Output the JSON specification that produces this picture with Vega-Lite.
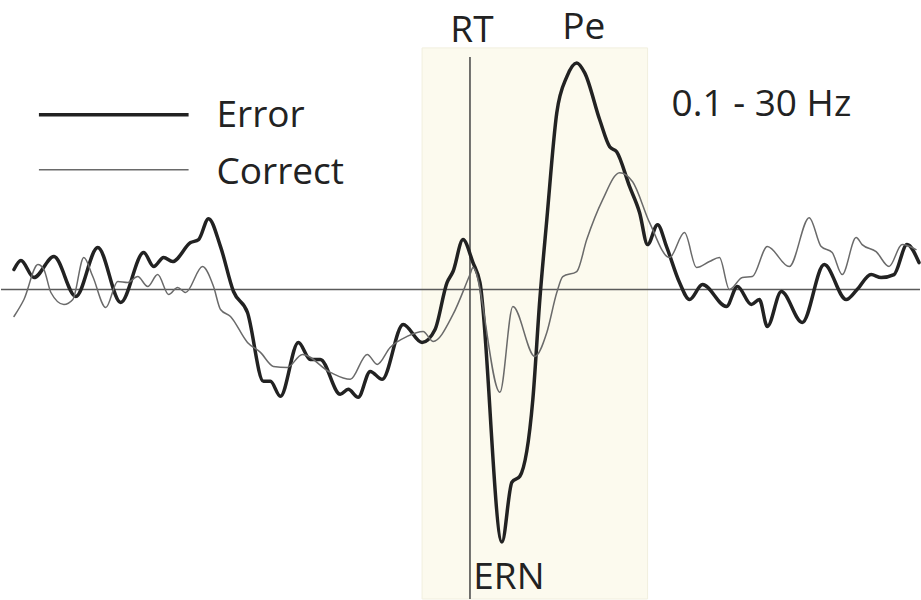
{
  "$schema": "https://vega.github.io/schema/vega-lite/v6.json",
  "width": 921,
  "height": 600,
  "autosize": {"type": "fit", "contains": "padding"},
  "padding": 0,
  "background": "white",
  "config": {"view": {"stroke": null}, "font": "Open Sans"},
  "datasets": {
    "erp": [
      {"series":"Error","t":-914,"amp":1.0},{"series":"Error","t":-900,"amp":1.45},{"series":"Error","t":-874,"amp":0.6},{"series":"Error","t":-834,"amp":1.65},{"series":"Error","t":-790,"amp":-0.35},{"series":"Error","t":-746,"amp":2.1},{"series":"Error","t":-700,"amp":-0.65},{"series":"Error","t":-654,"amp":1.85},{"series":"Error","t":-634,"amp":1.15},{"series":"Error","t":-614,"amp":1.6},{"series":"Error","t":-596,"amp":1.4},{"series":"Error","t":-560,"amp":2.35},{"series":"Error","t":-544,"amp":2.5},{"series":"Error","t":-524,"amp":3.55},{"series":"Error","t":-500,"amp":2.15},{"series":"Error","t":-474,"amp":-0.1},{"series":"Error","t":-446,"amp":-1.15},{"series":"Error","t":-414,"amp":-4.6},{"series":"Error","t":-400,"amp":-4.6},{"series":"Error","t":-380,"amp":-5.35},{"series":"Error","t":-344,"amp":-2.65},{"series":"Error","t":-320,"amp":-3.5},{"series":"Error","t":-300,"amp":-3.5},{"series":"Error","t":-260,"amp":-5.25},{"series":"Error","t":-244,"amp":-5.0},{"series":"Error","t":-224,"amp":-5.4},{"series":"Error","t":-200,"amp":-4.1},{"series":"Error","t":-176,"amp":-4.5},{"series":"Error","t":-134,"amp":-1.75},{"series":"Error","t":-96,"amp":-2.65},{"series":"Error","t":-70,"amp":-2.0},{"series":"Error","t":-46,"amp":0.35},{"series":"Error","t":-34,"amp":0.9},{"series":"Error","t":-14,"amp":2.5},{"series":"Error","t":6,"amp":1.35},{"series":"Error","t":20,"amp":0.35},{"series":"Error","t":64,"amp":-12.65},{"series":"Error","t":84,"amp":-9.65},{"series":"Error","t":100,"amp":-9.35},{"series":"Error","t":126,"amp":-5.5},{"series":"Error","t":140,"amp":-0.5},{"series":"Error","t":154,"amp":3.5},{"series":"Error","t":174,"amp":8.85},{"series":"Error","t":194,"amp":10.65},{"series":"Error","t":214,"amp":11.35},{"series":"Error","t":230,"amp":10.85},{"series":"Error","t":260,"amp":8.5},{"series":"Error","t":280,"amp":7.15},{"series":"Error","t":294,"amp":6.9},{"series":"Error","t":320,"amp":5.15},{"series":"Error","t":340,"amp":3.85},{"series":"Error","t":356,"amp":2.25},{"series":"Error","t":376,"amp":3.25},{"series":"Error","t":394,"amp":2.15},{"series":"Error","t":420,"amp":0.35},{"series":"Error","t":440,"amp":-0.5},{"series":"Error","t":466,"amp":0.25},{"series":"Error","t":514,"amp":-0.85},{"series":"Error","t":536,"amp":0.15},{"series":"Error","t":564,"amp":-0.75},{"series":"Error","t":580,"amp":-0.5},{"series":"Error","t":596,"amp":-1.85},{"series":"Error","t":624,"amp":-0.1},{"series":"Error","t":666,"amp":-1.65},{"series":"Error","t":710,"amp":1.25},{"series":"Error","t":754,"amp":-0.5},{"series":"Error","t":776,"amp":0.0},{"series":"Error","t":804,"amp":0.75},{"series":"Error","t":824,"amp":0.6},{"series":"Error","t":850,"amp":0.75},{"series":"Error","t":876,"amp":2.25},{"series":"Error","t":900,"amp":1.35},
      {"series":"Correct","t":-914,"amp":-1.35},{"series":"Correct","t":-894,"amp":-0.5},{"series":"Correct","t":-866,"amp":1.25},{"series":"Correct","t":-854,"amp":1.0},{"series":"Correct","t":-840,"amp":-0.15},{"series":"Correct","t":-814,"amp":-0.75},{"series":"Correct","t":-796,"amp":-0.5},{"series":"Correct","t":-774,"amp":1.6},{"series":"Correct","t":-756,"amp":0.65},{"series":"Correct","t":-730,"amp":-0.9},{"series":"Correct","t":-706,"amp":0.4},{"series":"Correct","t":-686,"amp":0.35},{"series":"Correct","t":-666,"amp":0.65},{"series":"Correct","t":-646,"amp":0.15},{"series":"Correct","t":-626,"amp":0.75},{"series":"Correct","t":-604,"amp":-0.25},{"series":"Correct","t":-586,"amp":0.1},{"series":"Correct","t":-570,"amp":-0.15},{"series":"Correct","t":-536,"amp":1.15},{"series":"Correct","t":-514,"amp":0.15},{"series":"Correct","t":-500,"amp":-1.0},{"series":"Correct","t":-480,"amp":-1.35},{"series":"Correct","t":-446,"amp":-2.65},{"series":"Correct","t":-420,"amp":-3.15},{"series":"Correct","t":-394,"amp":-3.85},{"series":"Correct","t":-366,"amp":-3.9},{"series":"Correct","t":-336,"amp":-3.25},{"series":"Correct","t":-280,"amp":-4.15},{"series":"Correct","t":-240,"amp":-4.5},{"series":"Correct","t":-206,"amp":-3.25},{"series":"Correct","t":-186,"amp":-3.75},{"series":"Correct","t":-160,"amp":-2.9},{"series":"Correct","t":-126,"amp":-2.35},{"series":"Correct","t":-94,"amp":-2.1},{"series":"Correct","t":-74,"amp":-2.6},{"series":"Correct","t":-34,"amp":-1.25},{"series":"Correct","t":0,"amp":0.75},{"series":"Correct","t":6,"amp":1.1},{"series":"Correct","t":60,"amp":-5.15},{"series":"Correct","t":86,"amp":-0.85},{"series":"Correct","t":130,"amp":-3.35},{"series":"Correct","t":154,"amp":-2.15},{"series":"Correct","t":174,"amp":-0.15},{"series":"Correct","t":186,"amp":0.65},{"series":"Correct","t":214,"amp":0.9},{"series":"Correct","t":234,"amp":2.5},{"series":"Correct","t":266,"amp":4.5},{"series":"Correct","t":300,"amp":5.85},{"series":"Correct","t":326,"amp":5.4},{"series":"Correct","t":360,"amp":3.35},{"series":"Correct","t":400,"amp":1.6},{"series":"Correct","t":430,"amp":2.85},{"series":"Correct","t":454,"amp":1.1},{"series":"Correct","t":480,"amp":1.4},{"series":"Correct","t":500,"amp":1.6},{"series":"Correct","t":520,"amp":0.0},{"series":"Correct","t":546,"amp":0.6},{"series":"Correct","t":566,"amp":0.65},{"series":"Correct","t":596,"amp":2.15},{"series":"Correct","t":640,"amp":1.15},{"series":"Correct","t":680,"amp":3.6},{"series":"Correct","t":704,"amp":2.15},{"series":"Correct","t":726,"amp":1.85},{"series":"Correct","t":746,"amp":0.75},{"series":"Correct","t":774,"amp":2.6},{"series":"Correct","t":786,"amp":2.25},{"series":"Correct","t":814,"amp":1.9},{"series":"Correct","t":840,"amp":1.15},{"series":"Correct","t":866,"amp":2.25},{"series":"Correct","t":894,"amp":2.0}
    ]
  },
  "layer": [
    {
      "data": {"values": [{"t1": -96, "t2": 356, "a1": -15.5, "a2": 12.1}]},
      "mark": {"type": "rect", "fill": "#fcfaee", "stroke": "#f1efde", "strokeWidth": 1},
      "encoding": {
        "x": {"field": "t1", "type": "quantitative", "scale": {"domain": [-940, 902], "nice": false, "zero": false}, "axis": null},
        "x2": {"field": "t2"},
        "y": {"field": "a1", "type": "quantitative", "scale": {"domain": [-15.5, 14.5], "nice": false, "zero": false}, "axis": null},
        "y2": {"field": "a2"}
      }
    },
    {
      "data": {"values": [{"amp": 0}]},
      "mark": {"type": "rule", "color": "#5a5a5a", "strokeWidth": 1.5},
      "encoding": {"y": {"field": "amp", "type": "quantitative"}}
    },
    {
      "data": {"values": [{"t": 0, "a1": 11.65, "a2": -15.5}]},
      "mark": {"type": "rule", "color": "#444444", "strokeWidth": 1.5},
      "encoding": {"x": {"field": "t", "type": "quantitative"}, "y": {"field": "a1", "type": "quantitative"}, "y2": {"field": "a2"}}
    },
    {
      "data": {"name": "erp"},
      "mark": {"type": "line", "interpolate": "monotone", "strokeJoin": "round", "strokeCap": "round"},
      "encoding": {
        "x": {"field": "t", "type": "quantitative"},
        "y": {"field": "amp", "type": "quantitative"},
        "detail": {"field": "series"},
        "color": {"field": "series", "type": "nominal", "scale": {"domain": ["Error", "Correct"], "range": ["#222222", "#6a6a6a"]}, "legend": null},
        "strokeWidth": {"field": "series", "type": "nominal", "scale": {"domain": ["Error", "Correct"], "range": [3.5, 1.5]}, "legend": null},
        "order": {"field": "t", "type": "quantitative"}
      }
    },
    {
      "data": {"values": [
        {"series": "Error", "t1": -864, "t2": -564, "amp": 8.75},
        {"series": "Correct", "t1": -864, "t2": -564, "amp": 6.0}
      ]},
      "mark": {"type": "rule"},
      "encoding": {
        "x": {"field": "t1", "type": "quantitative"},
        "x2": {"field": "t2"},
        "y": {"field": "amp", "type": "quantitative"},
        "color": {"field": "series", "type": "nominal", "legend": null},
        "strokeWidth": {"field": "series", "type": "nominal", "legend": null}
      }
    },
    {
      "data": {"values": [
        {"label": "Error", "t": -508, "amp": 8.7},
        {"label": "Correct", "t": -508, "amp": 5.85},
        {"label": "0.1 - 30 Hz", "t": 404, "amp": 9.25}
      ]},
      "mark": {"type": "text", "align": "left", "baseline": "middle", "fontSize": 37, "color": "#222222"},
      "encoding": {
        "x": {"field": "t", "type": "quantitative"},
        "y": {"field": "amp", "type": "quantitative"},
        "text": {"field": "label"}
      }
    },
    {
      "data": {"values": [
        {"label": "RT", "t": 4, "amp": 12.95},
        {"label": "Pe", "t": 228, "amp": 13.1},
        {"label": "ERN", "t": 78, "amp": -14.45}
      ]},
      "mark": {"type": "text", "align": "center", "baseline": "middle", "fontSize": 37, "color": "#222222"},
      "encoding": {
        "x": {"field": "t", "type": "quantitative"},
        "y": {"field": "amp", "type": "quantitative"},
        "text": {"field": "label"}
      }
    }
  ]
}
